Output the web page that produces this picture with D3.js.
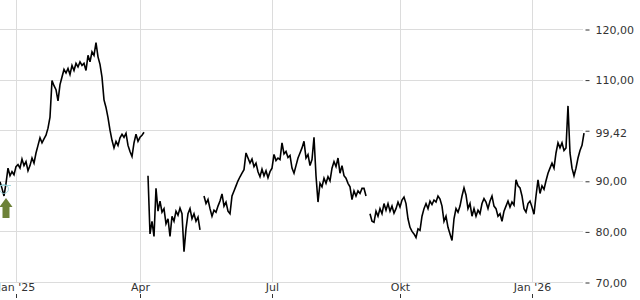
<!DOCTYPE html>
<html>
<head>
<meta charset="utf-8">
<script src="https://cdn.jsdelivr.net/npm/d3@7"></script>
<style>
  body { margin: 0; background: #fff; }
  svg { display: block; font-family: "DejaVu Sans", sans-serif; }
</style>
</head>
<body>
<script>
// one value per session, null = no quote
const closes = [
  89.8, 88.5, 87.0, 89.5, 92.5, 91.0, 91.8, 91.2, 92.8, 93.2,
  92.5, 94.3, 93.0, 93.8, 92.0, 93.0, 94.5, 93.5, 95.5, 97.0,
  98.5, 97.5, 98.3, 99.0, 100.4, 102.6, 109.8, 108.8, 108.0, 105.8,
  109.0, 110.5, 112.0, 111.3, 112.2, 111.0, 112.8, 111.8, 113.2, 112.5,
  113.5, 112.8, 113.2, 111.8, 114.8, 113.5, 115.5, 114.8, 117.3, 114.5,
  113.0, 110.5, 106.0, 104.5, 102.5, 100.0, 98.0, 96.5, 97.8, 97.0,
  98.5, 99.2, 98.6, 99.4, 97.0, 95.8, 94.8, 97.5, 99.2, 97.8,
  98.6, 99.0, 99.6, null, 91.0, 79.5, 82.0, 79.0, 88.5, 84.0,
  86.0, 83.8, 84.5, 81.5, 82.5, 79.0, 83.0, 82.0, 84.0, 83.2,
  84.6, 83.5, 76.0, 80.5, 83.5, 84.5, 82.5, 83.5, 82.0, 82.8,
  80.3, null, 87.0, 85.5, 86.3, 84.5, 83.0, 84.2, 83.8, 85.0,
  86.0, 87.4, 85.0, 85.8, 84.0, 83.5, 87.0, 88.0, 89.0, 90.0,
  90.8, 91.5, 92.2, 95.5, 94.5, 93.5, 94.3, 92.8, 93.5, 91.8,
  90.8, 92.3, 91.0, 92.0, 90.6, 91.8, 92.5, 95.2, 94.0, 94.5,
  94.2, 97.5, 95.3, 95.8, 94.6, 95.0, 92.5, 91.5, 93.0, 94.5,
  95.5, 96.5, 97.8, 94.5, 95.2, 93.0, 94.2, 98.6, 91.0, 85.8,
  89.5, 88.8, 90.5, 89.5, 90.8, 90.0, 92.5, 93.8, 92.8, 94.5,
  91.5, 93.0, 91.0, 90.5, 89.5, 88.8, 86.3, 88.0, 87.0, 88.0,
  87.5, 88.5, 88.5, 87.0, null, 83.5, 82.0, 81.8, 84.0, 83.0,
  84.5, 83.5, 85.5, 84.2, 85.5, 84.0, 85.0, 83.6, 84.5, 85.8,
  84.8, 86.2, 86.8, 85.5, 82.5, 80.8, 80.0, 79.5, 78.8, 80.5,
  80.2, 83.0, 84.5, 85.5, 84.5, 86.0, 85.3, 86.2, 85.8, 87.0,
  86.4, 85.0, 82.0, 83.0, 80.8, 79.5, 78.2, 82.5, 84.5, 83.8,
  85.0, 87.0, 88.6, 87.2, 84.5, 85.5, 83.0, 84.5, 83.0, 84.2,
  83.5, 85.5, 86.5, 85.8, 84.5, 86.0, 87.0, 85.0, 84.5, 83.0,
  83.5, 82.0, 84.0, 85.0, 86.0, 84.8, 85.8, 85.2, 90.2, 89.0,
  88.6, 87.0, 84.5, 83.8, 85.5, 86.0, 84.8, 83.4, 87.0, 90.2,
  87.5, 89.0, 88.3, 90.0, 91.5, 92.5, 93.5, 92.5, 95.5, 97.5,
  96.5, 97.5, 96.0, 96.5, 104.8, 95.5, 92.5, 91.0, 92.5, 94.5,
  96.0, 97.0, 99.42
];

// session index where each labelled month starts
const monthSessions = [8, 70, 136, 200, 266];
const monthLabels = ["Jan '25", "Apr", "Jul", "Okt", "Jan '26"];

const priceTicks = [70, 80, 90, 100, 110, 120];
const lastPrice = 99.42;

// buy signal
const signalSession = 3;
const signalPrice = 86.8;

const width = 640, height = 300;
const plotRight = 583, plotTop = 29, plotBottom = 282;

const de = d3.formatLocale({ decimal: ",", thousands: ".", grouping: [3], currency: ["", " €"] });
const fmt = de.format(",.2f");

const x = d3.scaleLinear().domain([0, closes.length - 1]).range([0, 584]);
const y = d3.scaleLinear().domain([70, 120]).range([plotBottom, plotTop]);

const svg = d3.select("body").append("svg")
  .attr("width", width)
  .attr("height", height);

// grid
svg.append("g").selectAll("line")
  .data(priceTicks)
  .join("line")
  .attr("x1", 0).attr("x2", plotRight)
  .attr("y1", d => Math.round(y(d)) + 0.5).attr("y2", d => Math.round(y(d)) + 0.5)
  .attr("stroke", "#dcdcdc");

svg.append("g").selectAll("line")
  .data(monthSessions)
  .join("line")
  .attr("x1", d => Math.round(x(d)) + 0.5).attr("x2", d => Math.round(x(d)) + 0.5)
  .attr("y1", 0).attr("y2", plotBottom)
  .attr("stroke", "#dcdcdc");

// price axis on the right
const yAxis = d3.axisRight(y)
  .tickValues(priceTicks)
  .tickSize(4)
  .tickPadding(6)
  .tickFormat(v => v === 100 ? "" : fmt(v));

const ya = svg.append("g")
  .attr("transform", `translate(${plotRight + 2.5},0.5)`)
  .call(yAxis);
ya.select(".domain").remove();
ya.selectAll("line").attr("stroke", "#333");
ya.selectAll("text").attr("fill", "#333").style("font-size", "11px").style("font-family", "DejaVu Sans");

svg.append("text")
  .attr("x", plotRight + 12.5)
  .attr("y", y(lastPrice) + 0.5)
  .attr("dy", "0.32em")
  .attr("fill", "#333")
  .style("font-size", "11px")
  .text(fmt(lastPrice));

// month labels with ticks underneath
const xa = svg.append("g");
xa.selectAll("text")
  .data(monthSessions)
  .join("text")
  .attr("x", d => x(d) + 0.5)
  .attr("y", 287)
  .attr("dy", "0.35em")
  .attr("text-anchor", "middle")
  .attr("fill", "#333")
  .style("font-size", "11px")
  .text((d, i) => monthLabels[i]);
xa.selectAll("line")
  .data(monthSessions)
  .join("line")
  .attr("x1", d => Math.round(x(d)) + 0.5).attr("x2", d => Math.round(x(d)) + 0.5)
  .attr("y1", 294).attr("y2", 298)
  .attr("stroke", "#333");

// price line
const line = d3.line()
  .defined(d => d != null)
  .x((d, i) => x(i))
  .y(d => y(d));

svg.append("path")
  .datum(closes)
  .attr("d", line)
  .attr("fill", "none")
  .attr("stroke", "#000")
  .attr("stroke-width", 1.6)
  .attr("stroke-linejoin", "miter");

// signal marker
const sx = x(signalSession), sy = y(signalPrice);
svg.append("circle")
  .attr("cx", sx - 2).attr("cy", sy - 8)
  .attr("r", 4.5)
  .attr("fill", "none")
  .attr("stroke", "#8fd0d8")
  .attr("stroke-width", 0.8);
svg.append("line")
  .attr("x1", sx - 6).attr("x2", sx + 5)
  .attr("y1", sy - 11.5).attr("y2", sy - 11.5)
  .attr("stroke", "#8fd0d8")
  .attr("stroke-width", 0.8);

svg.append("path")
  .attr("transform", `translate(${sx},${sy + 1})`)
  .attr("d", "M0,0 L6.5,9 L3.5,9 L3.5,20 L-3.5,20 L-3.5,9 L-6.5,9 Z")
  .attr("fill", "#6d8138");
</script>
</body>
</html>
